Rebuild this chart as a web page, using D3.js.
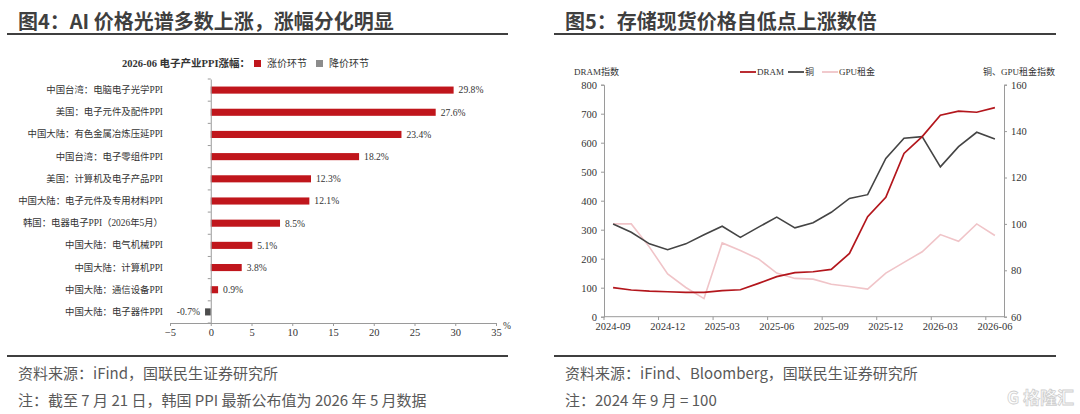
<!DOCTYPE html>
<html>
<head>
<meta charset="utf-8">
<script src="https://cdn.jsdelivr.net/npm/d3@7"></script>
<style>
  html, body { margin: 0; padding: 0; background: #fff; }
  svg { display: block; }
  .serif { font-family: "Liberation Serif", "Noto Sans CJK SC", serif; }
</style>
</head>
<body>
<svg id="chart" width="1080" height="414"></svg>
<script>
// ---- Figure 4: PPI bars ----
const ppiLabels = [
  "中国台湾：电脑电子光学PPI",
  "美国：电子元件及配件PPI",
  "中国大陆：有色金属冶炼压延PPI",
  "中国台湾：电子零组件PPI",
  "美国：计算机及电子产品PPI",
  "中国大陆：电子元件及专用材料PPI",
  "韩国：电器电子PPI（2026年5月）",
  "中国大陆：电气机械PPI",
  "中国大陆：计算机PPI",
  "中国大陆：通信设备PPI",
  "中国大陆：电子器件PPI"
];
const ppiValues = [29.8, 27.6, 23.4, 18.2, 12.3, 12.1, 8.5, 5.1, 3.8, 0.9, -0.7];
const ppiTicks = [-5, 0, 5, 10, 15, 20, 25, 30, 35];

// ---- Figure 5: spot price indices ----
const months = ["2024-09","2024-10","2024-11","2024-12","2025-01","2025-02","2025-03","2025-04",
  "2025-05","2025-06","2025-07","2025-08","2025-09","2025-10","2025-11","2025-12",
  "2026-01","2026-02","2026-03","2026-04","2026-05","2026-06"];
const dram   = [100, 92, 88, 86, 84, 84, 90, 93, 115, 138, 152, 155, 163, 218, 345, 412, 563, 621, 695, 709, 705, 721];
const copper = [100, 96.4, 91.4, 88.9, 91.4, 95.3, 99, 94.2, 98.6, 102.9, 98.3, 100.5, 105, 111, 112.6, 128.2, 136.9, 137.6, 124.6, 133.3, 139.5, 136.6];
const gpu    = [100, 100, 90, 78.4, 72.6, 67.8, 91.8, 88.5, 84.9, 78.8, 76.5, 76.2, 74, 73, 71.9, 78.8, 83.4, 88, 95.4, 92.5, 100, 95];
const leftTicks = [0, 100, 200, 300, 400, 500, 600, 700, 800];
const rightTicks = [60, 80, 100, 120, 140, 160];
const monthTicks = ["2024-09","2024-12","2025-03","2025-06","2025-09","2025-12","2026-03","2026-06"];

const SVG = d3.select("#chart");
const CJK = "'Noto Sans CJK SC', 'Noto Sans', sans-serif";
const AXIS = "#9a9a9a";
const TXT = "#333";

// frame: titles, rules, footers
function frame(x0, x1, title, src, note) {
  SVG.append("text").attr("x", x0 + 11).attr("y", 29)
    .style("font-family", CJK).style("font-weight", "bold").style("font-size", "20px")
    .attr("fill", "#3f3f3f").text(title);
  SVG.append("line").attr("x1", x0).attr("x2", x1).attr("y1", 34).attr("y2", 34)
    .attr("stroke", "#3f3f3f").attr("stroke-width", 2);
  SVG.append("line").attr("x1", x0).attr("x2", x1).attr("y1", 356).attr("y2", 356)
    .attr("stroke", "#3f3f3f").attr("stroke-width", 2);
  SVG.append("text").attr("x", x0 + 11).attr("y", 379)
    .style("font-family", CJK).style("font-size", "15px").attr("fill", "#595959").text(src);
  SVG.append("text").attr("x", x0 + 11).attr("y", 406)
    .style("font-family", CJK).style("font-size", "15px").attr("fill", "#595959").text(note);
}
frame(7, 508, "图4：AI 价格光谱多数上涨，涨幅分化明显",
  "资料来源：iFind，国联民生证券研究所",
  "注：截至 7 月 21 日，韩国 PPI 最新公布值为 2026 年 5 月数据");
frame(554, 1056, "图5：存储现货价格自低点上涨数倍",
  "资料来源：iFind、Bloomberg，国联民生证券研究所",
  "注：2024 年 9 月 = 100");

// ================= left: bars =================
const x4 = d3.scaleLinear().domain([-5, 35]).range([170, 496]);
const y4 = d3.scaleBand().domain(ppiLabels).range([79, 323]).paddingInner(0.68).paddingOuter(0.34);

const g4 = SVG.append("g");
const rows = ppiValues.map((v, i) => ({ v, c: ppiLabels[i] }));

g4.selectAll("rect.bar")
  .data(rows)
  .join("rect")
  .attr("class", "bar")
  .attr("x", d => x4(Math.min(0, d.v)))
  .attr("width", d => Math.abs(x4(d.v) - x4(0)))
  .attr("y", d => y4(d.c))
  .attr("height", y4.bandwidth())
  .attr("fill", d => d.v >= 0 ? "#c0161c" : "#4d4d4d");

g4.selectAll("text.val")
  .data(rows)
  .join("text")
  .attr("class", "val serif")
  .attr("x", d => d.v >= 0 ? x4(d.v) + 5 : x4(d.v) - 5)
  .attr("y", d => y4(d.c) + y4.bandwidth() / 2)
  .attr("dy", "0.35em")
  .attr("text-anchor", d => d.v >= 0 ? "start" : "end")
  .style("font-size", "9.6px").attr("fill", TXT)
  .text(d => d.v.toFixed(1) + "%");

// category axis at x = 0
const yAx = g4.append("g").attr("transform", `translate(${x4(0)},0)`)
  .call(d3.axisLeft(y4).tickSize(0).tickPadding(x4(0) - 163));
yAx.select(".domain").attr("stroke", AXIS);
yAx.selectAll("text").attr("class", "serif").style("font-size", "9.4px").attr("fill", TXT);
const edges = ppiLabels.map(c => y4(c) - y4.step() * y4.paddingInner() / 2).concat([323]);
g4.selectAll("line.ytick").data(edges).join("line").attr("class", "ytick")
  .attr("x1", x4(0) - 3).attr("x2", x4(0)).attr("y1", d => d).attr("y2", d => d)
  .attr("stroke", AXIS);

const xAx4 = g4.append("g").attr("transform", "translate(0,323)")
  .call(d3.axisBottom(x4).tickValues(ppiTicks).tickSize(3).tickPadding(3).tickFormat(d3.format("d")));
xAx4.selectAll("path, line").attr("stroke", AXIS);
xAx4.selectAll("text").attr("class", "serif").style("font-size", "10.5px").attr("fill", TXT);
g4.append("text").attr("class", "serif").attr("x", 503).attr("y", 329)
  .style("font-size", "9.5px").attr("fill", TXT).text("%");

// legend
const lg4 = g4.append("g").style("font-size", "10px");
lg4.append("text").attr("class", "serif").attr("x", 250).attr("y", 67).attr("text-anchor", "end")
  .style("font-weight", "bold").style("font-size", "10.5px").attr("fill", TXT).text("2026-06 电子产业PPI涨幅：");
lg4.append("rect").attr("x", 254).attr("y", 60).attr("width", 7).attr("height", 7).attr("fill", "#c0161c");
lg4.append("text").attr("class", "serif").attr("x", 267).attr("y", 67).attr("fill", TXT).text("涨价环节");
lg4.append("rect").attr("x", 316).attr("y", 60).attr("width", 7).attr("height", 7).attr("fill", "#8c8c8c");
lg4.append("text").attr("class", "serif").attr("x", 329).attr("y", 67).attr("fill", TXT).text("降价环节");

// ================= right: lines =================
const x5 = d3.scaleBand().domain(months).range([604, 1004]);
const cx = m => x5(m) + x5.bandwidth() / 2;
const yL = d3.scaleLinear().domain([0, 800]).range([316.7, 84.7]);
const yR = d3.scaleLinear().domain([60, 160]).range([316.7, 84.7]);

const g5 = SVG.append("g");

const lineL = d3.line().x((d, i) => cx(months[i])).y(d => yL(d));
const lineR = d3.line().x((d, i) => cx(months[i])).y(d => yR(d));

g5.append("path").datum(gpu).attr("fill", "none").attr("stroke", "#f0c4c8").attr("stroke-width", 1.6).attr("d", lineR);
g5.append("path").datum(copper).attr("fill", "none").attr("stroke", "#444").attr("stroke-width", 1.6).attr("d", lineR);
g5.append("path").datum(dram).attr("fill", "none").attr("stroke", "#b3161c").attr("stroke-width", 1.7).attr("d", lineL);

const axL = g5.append("g").attr("transform", "translate(604,0)")
  .call(d3.axisLeft(yL).tickValues(leftTicks).tickSize(3).tickPadding(4));
const axR = g5.append("g").attr("transform", "translate(1004,0)")
  .call(d3.axisRight(yR).tickValues(rightTicks).tickSize(3).tickPadding(4));
const axB = g5.append("g").attr("transform", "translate(0,316.7)")
  .call(d3.axisBottom(x5).tickValues(monthTicks).tickSize(0).tickPadding(6));
axB.select(".domain").attr("d", "M604,0H1004");
g5.selectAll("line.xtick").data(monthTicks).join("line").attr("class", "xtick")
  .attr("x1", d => x5(d)).attr("x2", d => x5(d)).attr("y1", 316.7).attr("y2", 320)
  .attr("stroke", AXIS);
[axL, axR, axB].forEach(a => {
  a.selectAll("path, line").attr("stroke", AXIS);
  a.selectAll("text").attr("class", "serif").style("font-size", "10.5px").attr("fill", TXT);
});

g5.append("text").attr("class", "serif").attr("x", 574).attr("y", 75)
  .style("font-size", "9px").attr("fill", TXT).text("DRAM指数");
g5.append("text").attr("class", "serif").attr("x", 1055).attr("y", 75).attr("text-anchor", "end")
  .style("font-size", "9px").attr("fill", TXT).text("铜、GPU租金指数");

const legend5 = [
  { name: "DRAM", color: "#b3161c", x: 740 },
  { name: "铜", color: "#444", x: 788 },
  { name: "GPU租金", color: "#f0c4c8", x: 822 }
];
const lg5 = g5.selectAll("g.lg").data(legend5).join("g").attr("class", "lg")
  .attr("transform", d => `translate(${d.x},72)`);
lg5.append("line").attr("x1", 0).attr("x2", 16).attr("stroke", d => d.color).attr("stroke-width", 1.8);
lg5.append("text").attr("class", "serif").attr("x", 17).attr("dy", "0.35em")
  .style("font-size", "9px").attr("fill", TXT).text(d => d.name);

// watermark
SVG.append("text").attr("x", 1074).attr("y", 404).attr("text-anchor", "end")
  .style("font-family", CJK).style("font-size", "17px").style("font-weight", "bold")
  .attr("fill", "none").attr("stroke", "#cfcfcf").attr("stroke-width", 0.8).text("G 格隆汇");
</script>
</body>
</html>
